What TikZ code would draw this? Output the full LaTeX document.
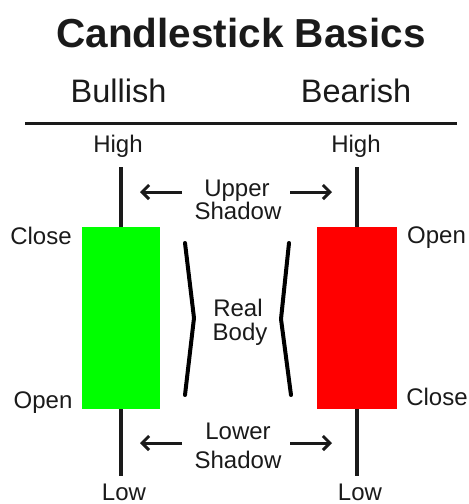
\documentclass[tikz,border=0pt]{standalone}
\usepackage{fontspec}
\setmainfont{Liberation Sans}
\usetikzlibrary{arrows.meta}
\definecolor{txt}{HTML}{1A1A1A}
\definecolor{bullgreen}{HTML}{00FF00}
\definecolor{bearred}{HTML}{FF0000}
\begin{document}
\begin{tikzpicture}[x=1pt,y=-1pt,
  lbl/.style={inner sep=0pt, anchor=base, font=\fontsize{24}{28}\selectfont, text=txt},
  head/.style={inner sep=0pt, anchor=base, font=\fontsize{32.5}{38}\selectfont, text=txt},
  body/.style={draw=none, inner sep=0pt, minimum height=182pt},
  wick/.style={line width=3.5pt, draw=txt},
  arr/.style={line width=3pt, draw=txt, -{Straight Barb[length=7pt,width=14pt,line width=3pt]}},
  brk/.style={line width=4pt, draw=black, line join=round, line cap=round}]
\useasboundingbox (0,0) rectangle (469,504);
% title and headers
\node[inner sep=0pt, anchor=base, font=\bfseries\fontsize{40.5}{48}\selectfont, text=txt] (title) at (241,47) {Candlestick Basics};
\node[head] (bull) at (118.5,102) {Bullish};
\node[head] (bear) at (356,102) {Bearish};
\coordinate (ruleL) at (25,123);
\coordinate (ruleR) at (457,123);
\draw[line width=3pt, draw=txt] (ruleL) -- (ruleR);
% candles
\node[body, fill=bullgreen, minimum width=78pt] (gbody) at (121,318) {};
\node[body, fill=bearred, minimum width=80pt] (rbody) at (357,318) {};
\coordinate (gtop) at (121,167);
\coordinate (gbot) at (121,476);
\coordinate (rtop) at (357,167);
\coordinate (rbot) at (357,476);
\draw[wick] (gbody.north) -- (gtop);
\draw[wick] (gbody.south) -- (gbot);
\draw[wick] (rbody.north) -- (rtop);
\draw[wick] (rbody.south) -- (rbot);
% labels
\node[lbl] (ghigh) at (118,152) {High};
\node[lbl] (rhigh) at (356,152) {High};
\node[lbl] (glow) at (124,500) {Low};
\node[lbl] (rlow) at (360,500) {Low};
\node[lbl] (gclose) at (41,244) {Close};
\node[lbl] (gopen) at (43,408) {Open};
\node[lbl] (ropen) at (436.5,243) {Open};
\node[lbl] (rclose) at (437,405) {Close};
% upper shadow
\node[lbl] (upper) at (237,196) {Upper};
\node[lbl] (ushadow) at (238,219) {Shadow};
\coordinate (ua1) at (182,192);
\coordinate (ua2) at (140,192);
\coordinate (ub1) at (290,192);
\coordinate (ub2) at (332,192);
\draw[arr] (ua1) -- (ua2);
\draw[arr] (ub1) -- (ub2);
% lower shadow
\node[lbl] (lower) at (238,439) {Lower};
\node[lbl] (lshadow) at (238,468) {Shadow};
\coordinate (la1) at (182,443);
\coordinate (la2) at (140,443);
\coordinate (lb1) at (290,443);
\coordinate (lb2) at (332,443);
\draw[arr] (la1) -- (la2);
\draw[arr] (lb1) -- (lb2);
% real body
\node[lbl] (real) at (238,316) {Real};
\node[lbl] (rb) at (240,340) {Body};
\coordinate (bl1) at (185,243);
\coordinate (bl2) at (194,318);
\coordinate (bl3) at (185,395);
\coordinate (br1) at (289,243);
\coordinate (br2) at (281,319);
\coordinate (br3) at (291,395);
\draw[brk] (bl1) -- (bl2) -- (bl3);
\draw[brk] (br1) -- (br2) -- (br3);
\end{tikzpicture}
\end{document}
